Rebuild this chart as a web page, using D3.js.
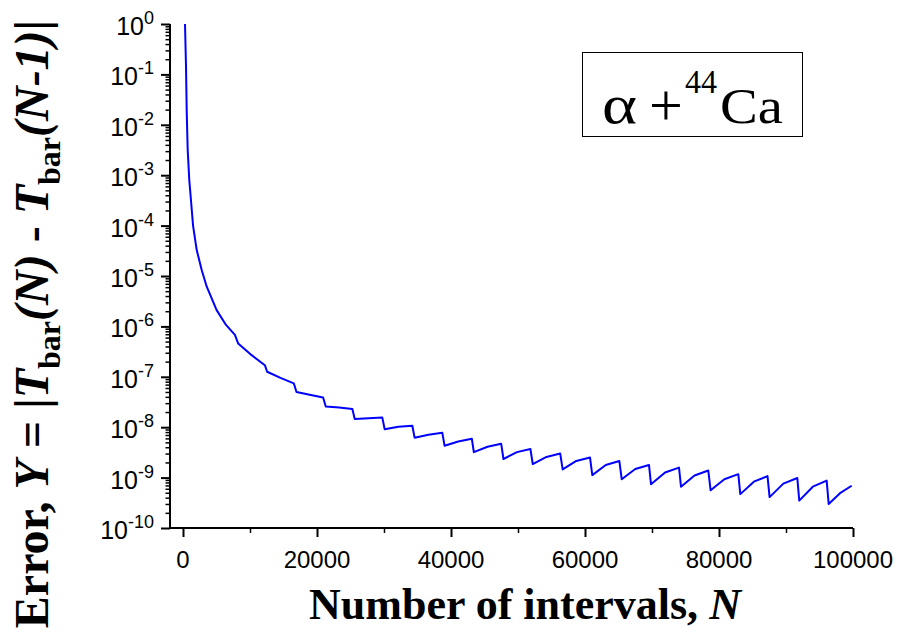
<!DOCTYPE html>
<html>
<head>
<meta charset="utf-8">
<script src="https://cdn.jsdelivr.net/npm/d3@7"></script>
<style>
  body { margin: 0; background: #fff; }
  svg { display: block; }
</style>
</head>
<body>
<svg id="chart" width="906" height="637"></svg>
<script>
// Convergence of the barrier transmission with the number of intervals N
const intervals = [
  300, 450, 550, 700, 940, 1150, 1500, 2040, 2800, 3530, 5020, 6420, 7750,
  8240, 10250, 12220,
  12560, 14550, 16540,
  16940, 18900, 20910,
  21310, 23300, 25280,
  25630, 27700, 29750,
  30100, 32150, 34230,
  34570, 36630, 38700,
  39040, 41080, 43110,
  43410, 45450, 47490,
  47830, 49840, 51850,
  52200, 54250, 56300,
  56670, 58700, 60750,
  61090, 63100, 65120,
  65480, 67500, 69550,
  69850, 71950, 74030,
  74330, 76350, 78400,
  78750, 80800, 82880,
  83180, 85200, 87240,
  87550, 89600, 91690,
  91980, 94000, 96070,
  96370, 98060, 99800
];
const errors = [
  1, 1.4e-1, 1.95e-2, 3.2e-3, 7.9e-4, 3.7e-4, 1.0e-4, 3.3e-5, 1.3e-5, 6.2e-6, 2.1e-6, 1.07e-6, 6.8e-7,
  4.57e-7, 2.69e-7, 1.70e-7,
  1.26e-7, 9.5e-8, 7.4e-8,
  5.0e-8, 4.4e-8, 3.9e-8,
  2.57e-8, 2.45e-8, 2.29e-8,
  1.45e-8, 1.51e-8, 1.55e-8,
  9.1e-9, 1.02e-8, 1.07e-8,
  6.2e-9, 7.1e-9, 7.8e-9,
  4.3e-9, 5.2e-9, 5.9e-9,
  3.2e-9, 4.1e-9, 4.7e-9,
  2.34e-9, 3.2e-9, 3.7e-9,
  1.86e-9, 2.57e-9, 3.0e-9,
  1.45e-9, 2.14e-9, 2.5e-9,
  1.12e-9, 1.78e-9, 2.14e-9,
  9.3e-10, 1.48e-9, 1.78e-9,
  7.4e-10, 1.26e-9, 1.58e-9,
  6.6e-10, 1.10e-9, 1.38e-9,
  5.6e-10, 9.3e-10, 1.17e-9,
  4.7e-10, 8.3e-10, 1.07e-9,
  4.1e-10, 7.6e-10, 9.8e-10,
  3.5e-10, 6.6e-10, 8.7e-10,
  3.0e-10, 4.9e-10, 6.9e-10
];
const xMajorTicks = [0, 20000, 40000, 60000, 80000, 100000];
const xMinorTicks = [10000, 30000, 50000, 70000, 90000];
const yExponents = [0, -1, -2, -3, -4, -5, -6, -7, -8, -9, -10];

const svg = d3.select("#chart");
const sans = "'Liberation Sans', Arial, sans-serif";
const serif = "'Liberation Serif', 'Times New Roman', serif";

const axisX = 170, plotTop = 24, plotBottom = 528;
const x = d3.scaleLinear().domain([0, 100000]).range([183, 853]);
const y = d3.scaleLog().domain([1e-10, 1]).range([plotBottom, plotTop]);

const yMajor = yExponents.map(e => Math.pow(10, e));
const yMinor = [];
yExponents.slice(1).forEach(e => {
  for (let m = 2; m <= 9; m++) yMinor.push(m * Math.pow(10, e));
});

// Axis lines
svg.append("line").attr("x1", axisX).attr("x2", axisX)
  .attr("y1", plotTop).attr("y2", plotBottom)
  .attr("stroke", "#000").attr("stroke-width", 2);
svg.append("line").attr("x1", axisX - 1).attr("x2", x(100000))
  .attr("y1", plotBottom).attr("y2", plotBottom)
  .attr("stroke", "#000").attr("stroke-width", 2);

// Y axis ticks (major + minor), pointing outward
const yAxisMajor = svg.append("g").attr("transform", `translate(${axisX},0)`)
  .call(d3.axisLeft(y).tickValues(yMajor).tickSize(9).tickSizeOuter(0).tickFormat(""));
const yAxisMinor = svg.append("g").attr("transform", `translate(${axisX},0)`)
  .call(d3.axisLeft(y).tickValues(yMinor).tickSize(4.5).tickSizeOuter(0).tickFormat(""));
[yAxisMajor, yAxisMinor].forEach(g => g.select(".domain").remove());
yAxisMajor.selectAll(".tick line").attr("stroke-width", 2);
yAxisMinor.selectAll(".tick line").attr("stroke-width", 1.5);

// Y tick labels as powers of ten
yExponents.forEach(e => {
  const t = svg.append("text")
    .attr("x", 154).attr("y", y(Math.pow(10, e)) + 11)
    .attr("text-anchor", "end")
    .attr("font-family", sans).attr("font-size", 25).attr("fill", "#000");
  t.append("tspan").text("10");
  t.append("tspan").attr("dy", -11).attr("font-size", 18).text(String(e));
});

// X axis ticks
const xAxisMajor = svg.append("g").attr("transform", `translate(0,${plotBottom})`)
  .call(d3.axisBottom(x).tickValues(xMajorTicks).tickSize(9).tickSizeOuter(0).tickFormat(""));
const xAxisMinor = svg.append("g").attr("transform", `translate(0,${plotBottom})`)
  .call(d3.axisBottom(x).tickValues(xMinorTicks).tickSize(5).tickSizeOuter(0).tickFormat(""));
[xAxisMajor, xAxisMinor].forEach(g => g.select(".domain").remove());
xAxisMajor.selectAll(".tick line").attr("stroke-width", 2);
xAxisMinor.selectAll(".tick line").attr("stroke-width", 1.5);

svg.append("g").selectAll("text").data(xMajorTicks).join("text")
  .attr("x", d => x(d)).attr("y", 568)
  .attr("text-anchor", "middle")
  .attr("font-family", sans).attr("font-size", 24).attr("fill", "#000")
  .text(d => String(d));

// Error curve
const pts = intervals.map((n, i) => [n, errors[i]]);
svg.append("path")
  .datum(pts)
  .attr("fill", "none").attr("stroke", "#0000ff").attr("stroke-width", 2)
  .attr("stroke-linejoin", "round")
  .attr("d", d3.line().x(d => x(d[0])).y(d => y(d[1])));

// X axis title
const xt = svg.append("text")
  .attr("x", 525).attr("y", 619).attr("text-anchor", "middle")
  .attr("font-family", serif).attr("font-size", 44).attr("font-weight", "bold");
xt.append("tspan").text("Number of intervals, ");
xt.append("tspan").attr("font-style", "italic").text("N");

// Y axis title
const yt = svg.append("text")
  .attr("transform", "translate(48,324) rotate(-90)")
  .attr("text-anchor", "middle")
  .attr("font-family", serif).attr("font-size", 48).attr("font-weight", "bold");
yt.append("tspan").text("Error, ");
yt.append("tspan").attr("font-style", "italic").text("Y");
yt.append("tspan").text(" = |");
yt.append("tspan").attr("font-style", "italic").text("T");
yt.append("tspan").attr("font-size", 32).attr("dy", 12).text("bar");
yt.append("tspan").attr("font-style", "italic").attr("dy", -12).text("(N)");
yt.append("tspan").text(" - ");
yt.append("tspan").attr("font-style", "italic").text("T");
yt.append("tspan").attr("font-size", 32).attr("dy", 12).text("bar");
yt.append("tspan").attr("font-style", "italic").attr("dy", -12).text("(N-1)");
yt.append("tspan").text("|");

// Reaction label box
svg.append("rect").attr("x", 582.5).attr("y", 52.5).attr("width", 220).attr("height", 84)
  .attr("fill", "#fff").attr("stroke", "#000").attr("stroke-width", 1);
function lblText(xPos, yPos, size, str, width) {
  const t = svg.append("text").attr("x", xPos).attr("y", yPos)
    .attr("font-family", serif).attr("font-size", size).attr("fill", "#000");
  if (width) t.attr("textLength", width).attr("lengthAdjust", "spacingAndGlyphs");
  return t.text(str);
}
lblText(602, 123, 54, "\u03b1", 35);
lblText(649, 125, 60, "+");
lblText(685, 93, 34, "44", 32);
lblText(720, 123, 50, "Ca", 63);
</script>
</body>
</html>
